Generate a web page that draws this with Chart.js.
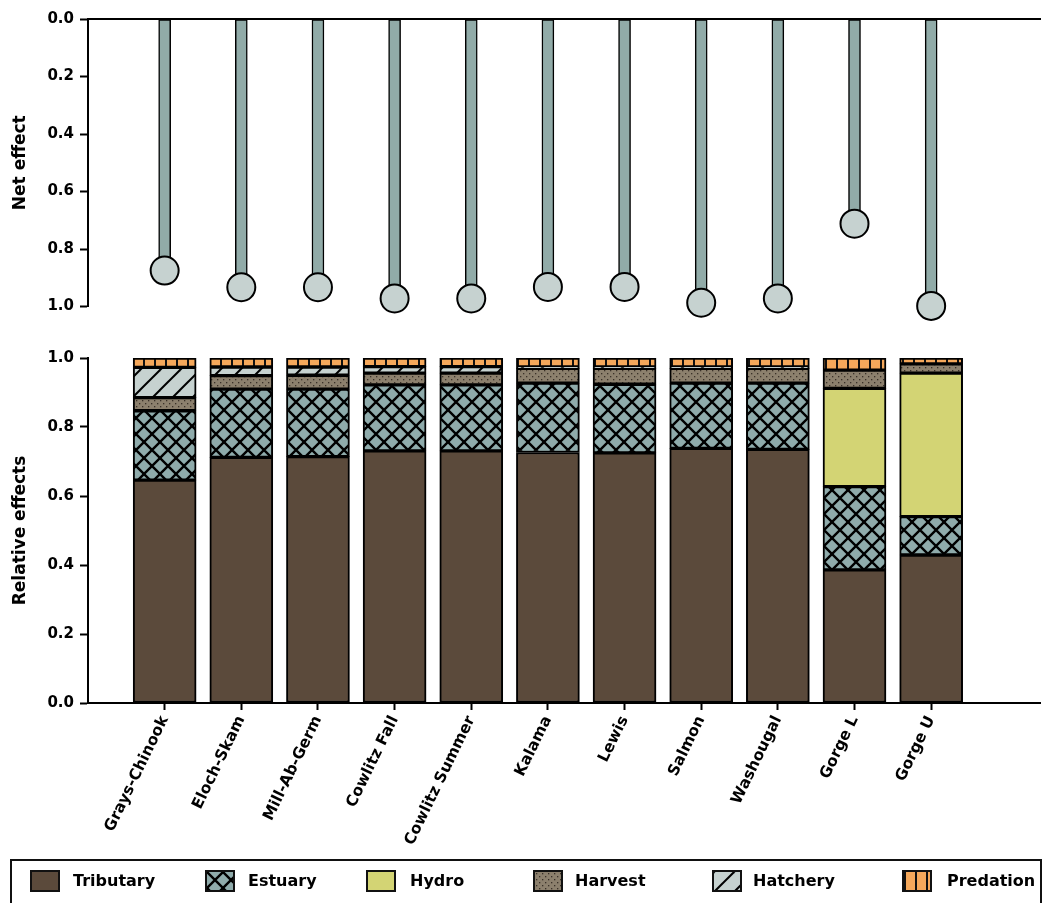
<!DOCTYPE html>
<html><head><meta charset="utf-8">
<script src="https://cdn.jsdelivr.net/npm/chart.js@4.4.0/dist/chart.umd.min.js"></script>
<style>
html,body{margin:0;padding:0;background:#fff;width:1045px;height:903px;overflow:hidden;position:relative;font-family:"DejaVu Sans",sans-serif;}
#topWrap{position:absolute;left:0;top:0;width:1045px;height:330px;}
#botWrap{position:absolute;left:0;top:330px;width:1045px;height:530px;}
#legend{position:absolute;left:10px;top:859px;width:1032px;height:80px;border:2px solid #111;box-sizing:border-box;}
.sw{position:absolute;top:870px;width:30px;height:22px;box-sizing:border-box;border:2px solid #111;}
.lt{position:absolute;top:871px;line-height:20px;font-weight:bold;font-size:16px;color:#000;white-space:nowrap;}
</style>
</head><body>
<div id="topWrap"><canvas id="topC" width="1045" height="330"></canvas></div>
<div id="botWrap"><canvas id="botC" width="1045" height="530"></canvas></div>
<div id="legend"></div>
<div id="legItems"></div>
<script>
const categories = ['Grays-Chinook','Eloch-Skam','Mill-Ab-Germ','Cowlitz Fall','Cowlitz Summer','Kalama','Lewis','Salmon','Washougal','Gorge L','Gorge U'];
const netEffect = [0.875,0.933,0.933,0.972,0.972,0.932,0.932,0.987,0.972,0.712,0.998];
const tributary = [0.646,0.712,0.714,0.731,0.731,0.726,0.725,0.738,0.735,0.386,0.429];
const estuary   = [0.201,0.198,0.196,0.191,0.191,0.201,0.199,0.189,0.192,0.241,0.111];
const hydro     = [0,0,0,0,0,0,0,0,0,0.285,0.416];
const harvest   = [0.038,0.039,0.040,0.034,0.034,0.043,0.046,0.043,0.043,0.053,0.027];
const hatchery  = [0.088,0.025,0.024,0.019,0.019,0.004,0.004,0.004,0.004,0,0];
const predation = [0.027,0.026,0.026,0.025,0.025,0.026,0.026,0.026,0.026,0.035,0.017];
const yTicks = [0,0.2,0.4,0.6,0.8,1.0];
const seriesNames = ['Tributary','Estuary','Hydro','Harvest','Hatchery','Predation'];

const FONT = '"DejaVu Sans"';
const COL = {trib:'#5b4a3b', est:'#8fabab', hydro:'#d3d474', harv:'#8c806d', hatch:'#c6d2d0', pred:'#f5a85b', stem:'#91aba8', dot:'#c6d2d0'};

function tile(w,h,draw){const c=document.createElement('canvas');c.width=w;c.height=h;const g=c.getContext('2d');draw(g,w,h);return c;}
function patCanvas(kind){
  if(kind==='est') return tile(16,16,(g,s)=>{g.fillStyle=COL.est;g.fillRect(0,0,s,s);g.strokeStyle='#000';g.lineWidth=2.4;
    for(const ox of [-s,0,s]){g.beginPath();g.moveTo(ox-2,-2);g.lineTo(ox+s+2,s+2);g.moveTo(ox+s+2,-2);g.lineTo(ox-2,s+2);g.stroke();}});
  if(kind==='hatch') return tile(20,20,(g,s)=>{g.fillStyle=COL.hatch;g.fillRect(0,0,s,s);g.strokeStyle='#000';g.lineWidth=2;
    for(const ox of [-s,0,s]){g.beginPath();g.moveTo(ox-2,s+2);g.lineTo(ox+s+2,-2);g.stroke();}});
  if(kind==='pred') return tile(11,11,(g,s)=>{g.fillStyle=COL.pred;g.fillRect(0,0,s,s);g.fillStyle='#111';g.fillRect(0,0,2,s);});
  if(kind==='harv') return tile(6,6,(g,s)=>{g.fillStyle=COL.harv;g.fillRect(0,0,s,s);g.fillStyle='#3a3128';g.fillRect(1,1,1.3,1.3);g.fillRect(4,4,1.3,1.3);});
  return null;
}
function pattern(kind){const c=patCanvas(kind);return document.createElement('canvas').getContext('2d').createPattern(c,'repeat');}

const XMIN=0, XMAX=12.42;
const pts = arr => arr.map((v,i)=>({x:i+1,y:v}));
const tickFont = {family:FONT, size:15, weight:'bold'};

Chart.defaults.animation=false;
Chart.defaults.events=[];
Chart.defaults.color='#000';

// top chart
new Chart(document.getElementById('topC'),{
  type:'bar',
  data:{datasets:[
    {type:'scatter', data:pts(netEffect), pointRadius:14, pointBackgroundColor:COL.dot, pointBorderColor:'#000', pointBorderWidth:2, clip:false, order:0},
    {type:'bar', data:pts(netEffect), backgroundColor:COL.stem, borderColor:'#000', borderWidth:1.5, borderSkipped:false, barThickness:12, order:1}
  ]},
  options:{responsive:false, maintainAspectRatio:false,
    layout:{autoPadding:false, padding:{top:0,right:5,bottom:23.5,left:0}},
    plugins:{legend:{display:false},tooltip:{enabled:false}},
    scales:{
      x:{type:'linear', position:'top', offset:false, min:XMIN, max:XMAX, bounds:'data',
        ticks:{display:false}, grid:{display:false, offset:false},
        border:{display:true,color:'#000',width:2},
        afterFit:s=>{s.height=19;}},
      y:{type:'linear', reverse:true, min:0, max:1, bounds:'data',
        afterBuildTicks:s=>{s.ticks=yTicks.map(v=>({value:v}));},
        ticks:{font:tickFont, color:'#000', padding:6, callback:v=>Number(v).toFixed(1)},
        grid:{drawOnChartArea:false, drawTicks:true, tickLength:8, color:'#000', tickColor:'#000', tickWidth:2},
        border:{display:true,color:'#000',width:2},
        title:{display:true, text:'Net effect', font:{family:FONT,size:17,weight:'bold'}, color:'#000', padding:{top:10,bottom:0}},
        afterFit:s=>{s.width=88;}}
    }}
});

// bottom chart
const stackDefs = [
  [tributary, COL.trib],
  [estuary, pattern('est')],
  [hydro, COL.hydro],
  [harvest, pattern('harv')],
  [hatchery, pattern('hatch')],
  [predation, pattern('pred')]
];
new Chart(document.getElementById('botC'),{
  type:'bar',
  data:{datasets:stackDefs.map((d,k)=>({label:seriesNames[k], data:pts(d[0]), backgroundColor:d[1], borderColor:'#000', borderWidth:2, borderSkipped:false, barThickness:63}))},
  options:{responsive:false, maintainAspectRatio:false,
    layout:{autoPadding:false, padding:{top:28,right:5,bottom:0,left:0}},
    plugins:{legend:{display:false},tooltip:{enabled:false}},
    scales:{
      x:{type:'linear', stacked:true, offset:false, min:XMIN, max:XMAX, bounds:'data',
        afterBuildTicks:s=>{s.ticks=categories.map((c,i)=>({value:i+1}));},
        ticks:{autoSkip:false, minRotation:64, maxRotation:64, padding:3, font:{family:FONT,size:15.5,weight:'bold'}, color:'#000',
          callback:v=>categories[Math.round(v)-1]},
        grid:{drawOnChartArea:false, drawTicks:true, tickLength:7, color:'#000', tickColor:'#000', tickWidth:2, offset:false},
        border:{display:true,color:'#000',width:2},
        afterFit:s=>{s.height=157;}},
      y:{type:'linear', stacked:true, min:0, max:1, bounds:'data',
        afterBuildTicks:s=>{s.ticks=yTicks.map(v=>({value:v}));},
        ticks:{font:tickFont, color:'#000', padding:6, callback:v=>Number(v).toFixed(1)},
        grid:{drawOnChartArea:false, drawTicks:true, tickLength:8, color:'#000', tickColor:'#000', tickWidth:2},
        border:{display:true,color:'#000',width:2},
        title:{display:true, text:'Relative effects', font:{family:FONT,size:17,weight:'bold'}, color:'#000', padding:{top:10,bottom:0}},
        afterFit:s=>{s.width=88;}}
    }}
});

// legend
const legPos = [[30,73],[205,248],[366,410],[533,575],[712,753],[902,947]];
const legFill = [COL.trib,'est',COL.hydro,'harv','hatch','pred'];
const li = document.getElementById('legItems');
seriesNames.forEach((name,k)=>{
  const sw=document.createElement('canvas');sw.className='sw';sw.width=26;sw.height=18;
  sw.style.left=legPos[k][0]+'px';
  const g=sw.getContext('2d');
  const f=legFill[k];
  if(f.startsWith('#')){g.fillStyle=f;}else{g.fillStyle=g.createPattern(patCanvas(f),'repeat');}
  g.fillRect(0,0,26,18);
  li.appendChild(sw);
  const t=document.createElement('div');t.className='lt';t.textContent=name;t.style.left=legPos[k][1]+'px';
  li.appendChild(t);
});
</script>
</body></html>
